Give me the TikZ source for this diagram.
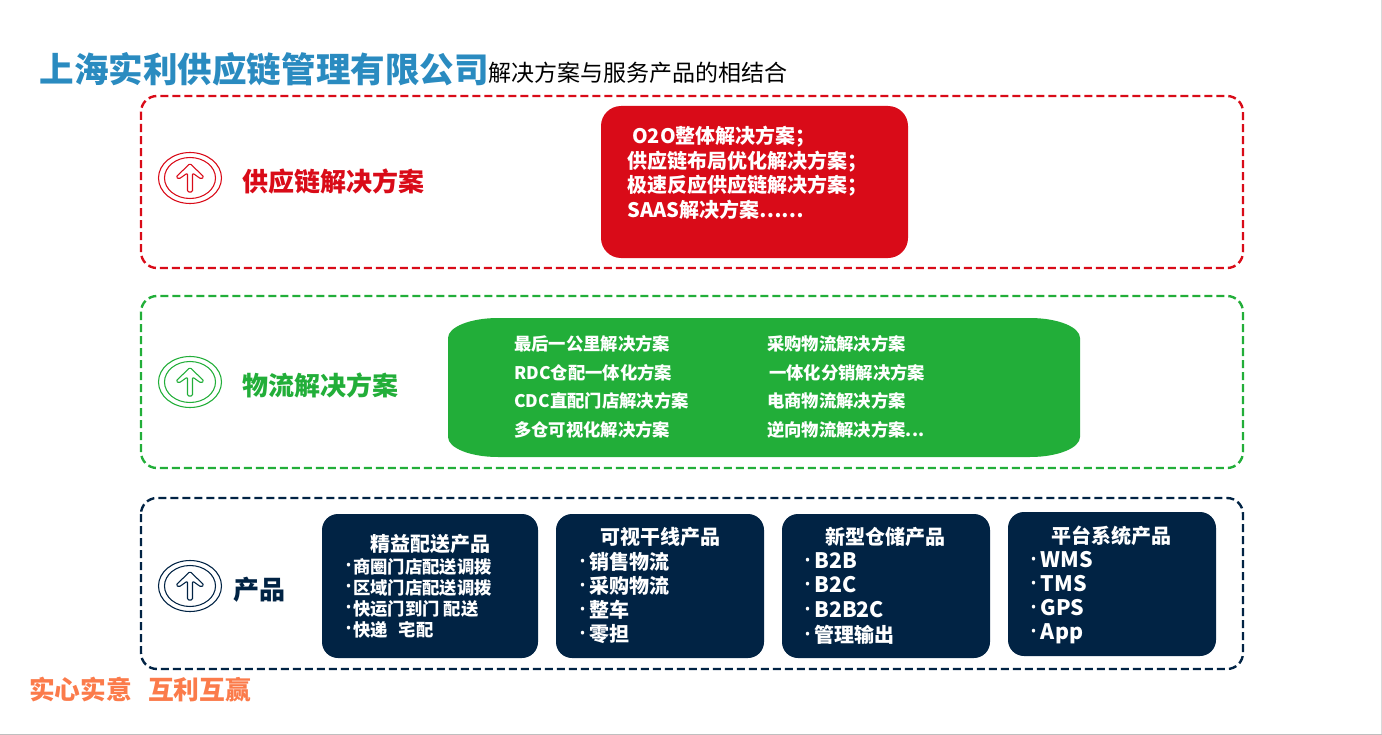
\documentclass[tikz,border=0pt]{standalone}
\usepackage{fontspec}
\setmainfont{Noto Sans CJK SC}
\newfontfamily\latinfont{Open Sans}
\usetikzlibrary{calc}
\definecolor{titleblue}{HTML}{2A8BC0}
\definecolor{solred}{HTML}{D90B18}
\definecolor{solgreen}{HTML}{22AE39}
\definecolor{prodnavy}{HTML}{012344}
\definecolor{mottoorange}{HTML}{FB7B4B}
\tikzset{
    frameline/.style={line width=1.8pt, dash pattern=on 6pt off 3pt, rounded corners=12pt},
    filledbox/.style={rounded corners=#1},
    headtext/.style={anchor=base west, font=\fontsize{19.5pt}{19.5pt}\selectfont\bfseries},
    whitetext/.style={anchor=base west, text=white, inner sep=0pt, font=\fontsize{#1}{#1}\selectfont\bfseries},
}
% list bullet and larger latin item
\newcommand{\listdot}[1]{\makebox[#1][l]{\smash{\raisebox{2.5pt}{\latinfont\bfseries\fontsize{9pt}{9pt}\selectfont •}}}}
\newcommand{\latinitem}[1]{{\fontsize{16pt}{16pt}\selectfont #1}}
% round icon with the upward arrow
\newcommand{\arrowicon}[3]{
    \draw [#3, line width=0.8pt] (#1,#2) ellipse (31.5 and 25.5);
    \draw [#3, line width=0.8pt] (#1,#2) ellipse (25.5 and 20.5);
    \draw [#3, line width=0.8pt, line join=round, rounded corners=1pt]
        (#1-2.5,#2+14) -- (#1-2.5,#2-5) -- (#1-11,#2+1) -- (#1-14,#2-1) -- (#1,#2-14.5)
        -- (#1+14,#2-1) -- (#1+11,#2+1) -- (#1+2.5,#2-5) -- (#1+2.5,#2+14) -- cycle;
}
\begin{document}
\begin{tikzpicture}[x=0.75pt, y=-0.75pt]
    \useasboundingbox (0,0) rectangle (1382,735);
    \draw [gray!50, line width=0.75pt] (0,734) -- (1382,734);
    \draw [gray!30, line width=0.75pt] (1381,0) -- (1381,734);

    % title
    \node [anchor=base west, inner sep=0pt, text=titleblue, font=\fontsize{25.9pt}{25.9pt}\selectfont\bfseries] (title) at (39.5,83) {上海实利供应链管理有限公司};
    \node [anchor=base west, inner sep=0pt, font=\fontsize{17.25pt}{17.25pt}\selectfont] (subtitle) at (488,82) {解决方案与服务产品的相结合};

    % dashed frames
    \draw [frameline, solred] (141,96) rectangle (1243,268);
    \draw [frameline, solgreen] (141,296) rectangle (1243,468);
    \draw [frameline, prodnavy] (141,498) rectangle (1243,669);

    % icons and headings
    \arrowicon{190}{178}{solred}
    \arrowicon{190}{382}{solgreen}
    \arrowicon{190}{586}{prodnavy}
    \node [headtext, inner sep=0pt, text=solred] (headsupply) at (242,191) {供应链解决方案};
    \node [headtext, inner sep=0pt, text=solgreen] (headlogistics) at (242,395) {物流解决方案};
    \node [headtext, inner sep=0pt, text=prodnavy] (headproduct) at (233,599) {产品};

    % supply chain box
    \fill [filledbox=15pt, solred] (601,106) rectangle (908,258);
    \node [whitetext=15pt] (supplyA) at (632,143) {O2O整体解决方案；};
    \node [whitetext=15pt] (supplyB) at (627,168) {供应链布局优化解决方案；};
    \node [whitetext=15pt] (supplyC) at (627,192) {极速反应供应链解决方案；};
    \node [whitetext=15pt] (supplyD) at (627,217) {SAAS解决方案……};

    % logistics box
    \fill [solgreen] (448,338) arc [start angle=180, end angle=270, x radius=50, y radius=20]
        -- (1030,318) arc [start angle=-90, end angle=0, x radius=50, y radius=20]
        -- (1080,437) arc [start angle=0, end angle=90, x radius=50, y radius=20]
        -- (498,457) arc [start angle=90, end angle=180, x radius=50, y radius=20] -- cycle;
    \foreach \n/\ypos/\txt in {A/350/最后一公里解决方案, B/379/RDC仓配一体化方案, C/407/CDC直配门店解决方案, D/436/多仓可视化解决方案}
        \node [whitetext=13pt] (logL\n) at (514,\ypos) {\txt};
    \foreach \n/\xpos/\ypos/\txt in {A/767/350/采购物流解决方案, B/769/379/一体化分销解决方案, C/767/407/电商物流解决方案, D/767/436/{逆向物流解决方案...}}
        \node [whitetext=13pt] (logR\n) at (\xpos,\ypos) {\txt};

    % product boxes
    \fill [filledbox=12pt, prodnavy] (322,514) rectangle (538,658);
    \fill [filledbox=12pt, prodnavy] (556,514) rectangle (764,658);
    \fill [filledbox=12pt, prodnavy] (782,514) rectangle (990,658);
    \fill [filledbox=12pt, prodnavy] (1008,512) rectangle (1216,656);

    \node [whitetext=15pt] (prodA) at (370,551) {精益配送产品};
    \foreach \n/\ypos/\txt in {A/573/商圈门店配送调拨, B/594/区域门店配送调拨, C/615/快运门到门 配送, D/636/快递\ \ \,宅配}
        \node [whitetext=13pt] (prodA\n) at (346,\ypos) {\listdot{5.25pt}\txt};

    \node [whitetext=15pt] (prodB) at (600,544) {可视干线产品};
    \foreach \n/\ypos/\txt in {A/569/销售物流, B/593/采购物流, C/617/整车, D/641/零担}
        \node [whitetext=15pt] (prodB\n) at (580,\ypos) {\listdot{6.75pt}\txt};

    \node [whitetext=15pt] (prodC) at (825,544) {新型仓储产品};
    \foreach \n/\ypos/\txt in {A/568/\latinitem{B2B}, B/592/\latinitem{B2C}, C/617/\latinitem{B2B2C}, D/642/管理输出}
        \node [whitetext=15pt] (prodC\n) at (805,\ypos) {\listdot{6.75pt}\txt};

    \node [whitetext=15pt] (prodD) at (1051,543) {平台系统产品};
    \foreach \n/\ypos/\txt in {A/567/\latinitem{WMS}, B/591/\latinitem{TMS}, C/615/\latinitem{GPS}, D/639/\latinitem{App}}
        \node [whitetext=15pt] (prodD\n) at (1031,\ypos) {\listdot{7.25pt}\txt};

    % motto
    \node [anchor=base west, inner sep=0pt, text=mottoorange, font=\fontsize{19.3pt}{19.3pt}\selectfont\bfseries] (motto) at (29,699) {实心实意\hspace{12pt}互利互赢};
\end{tikzpicture}
\end{document}
